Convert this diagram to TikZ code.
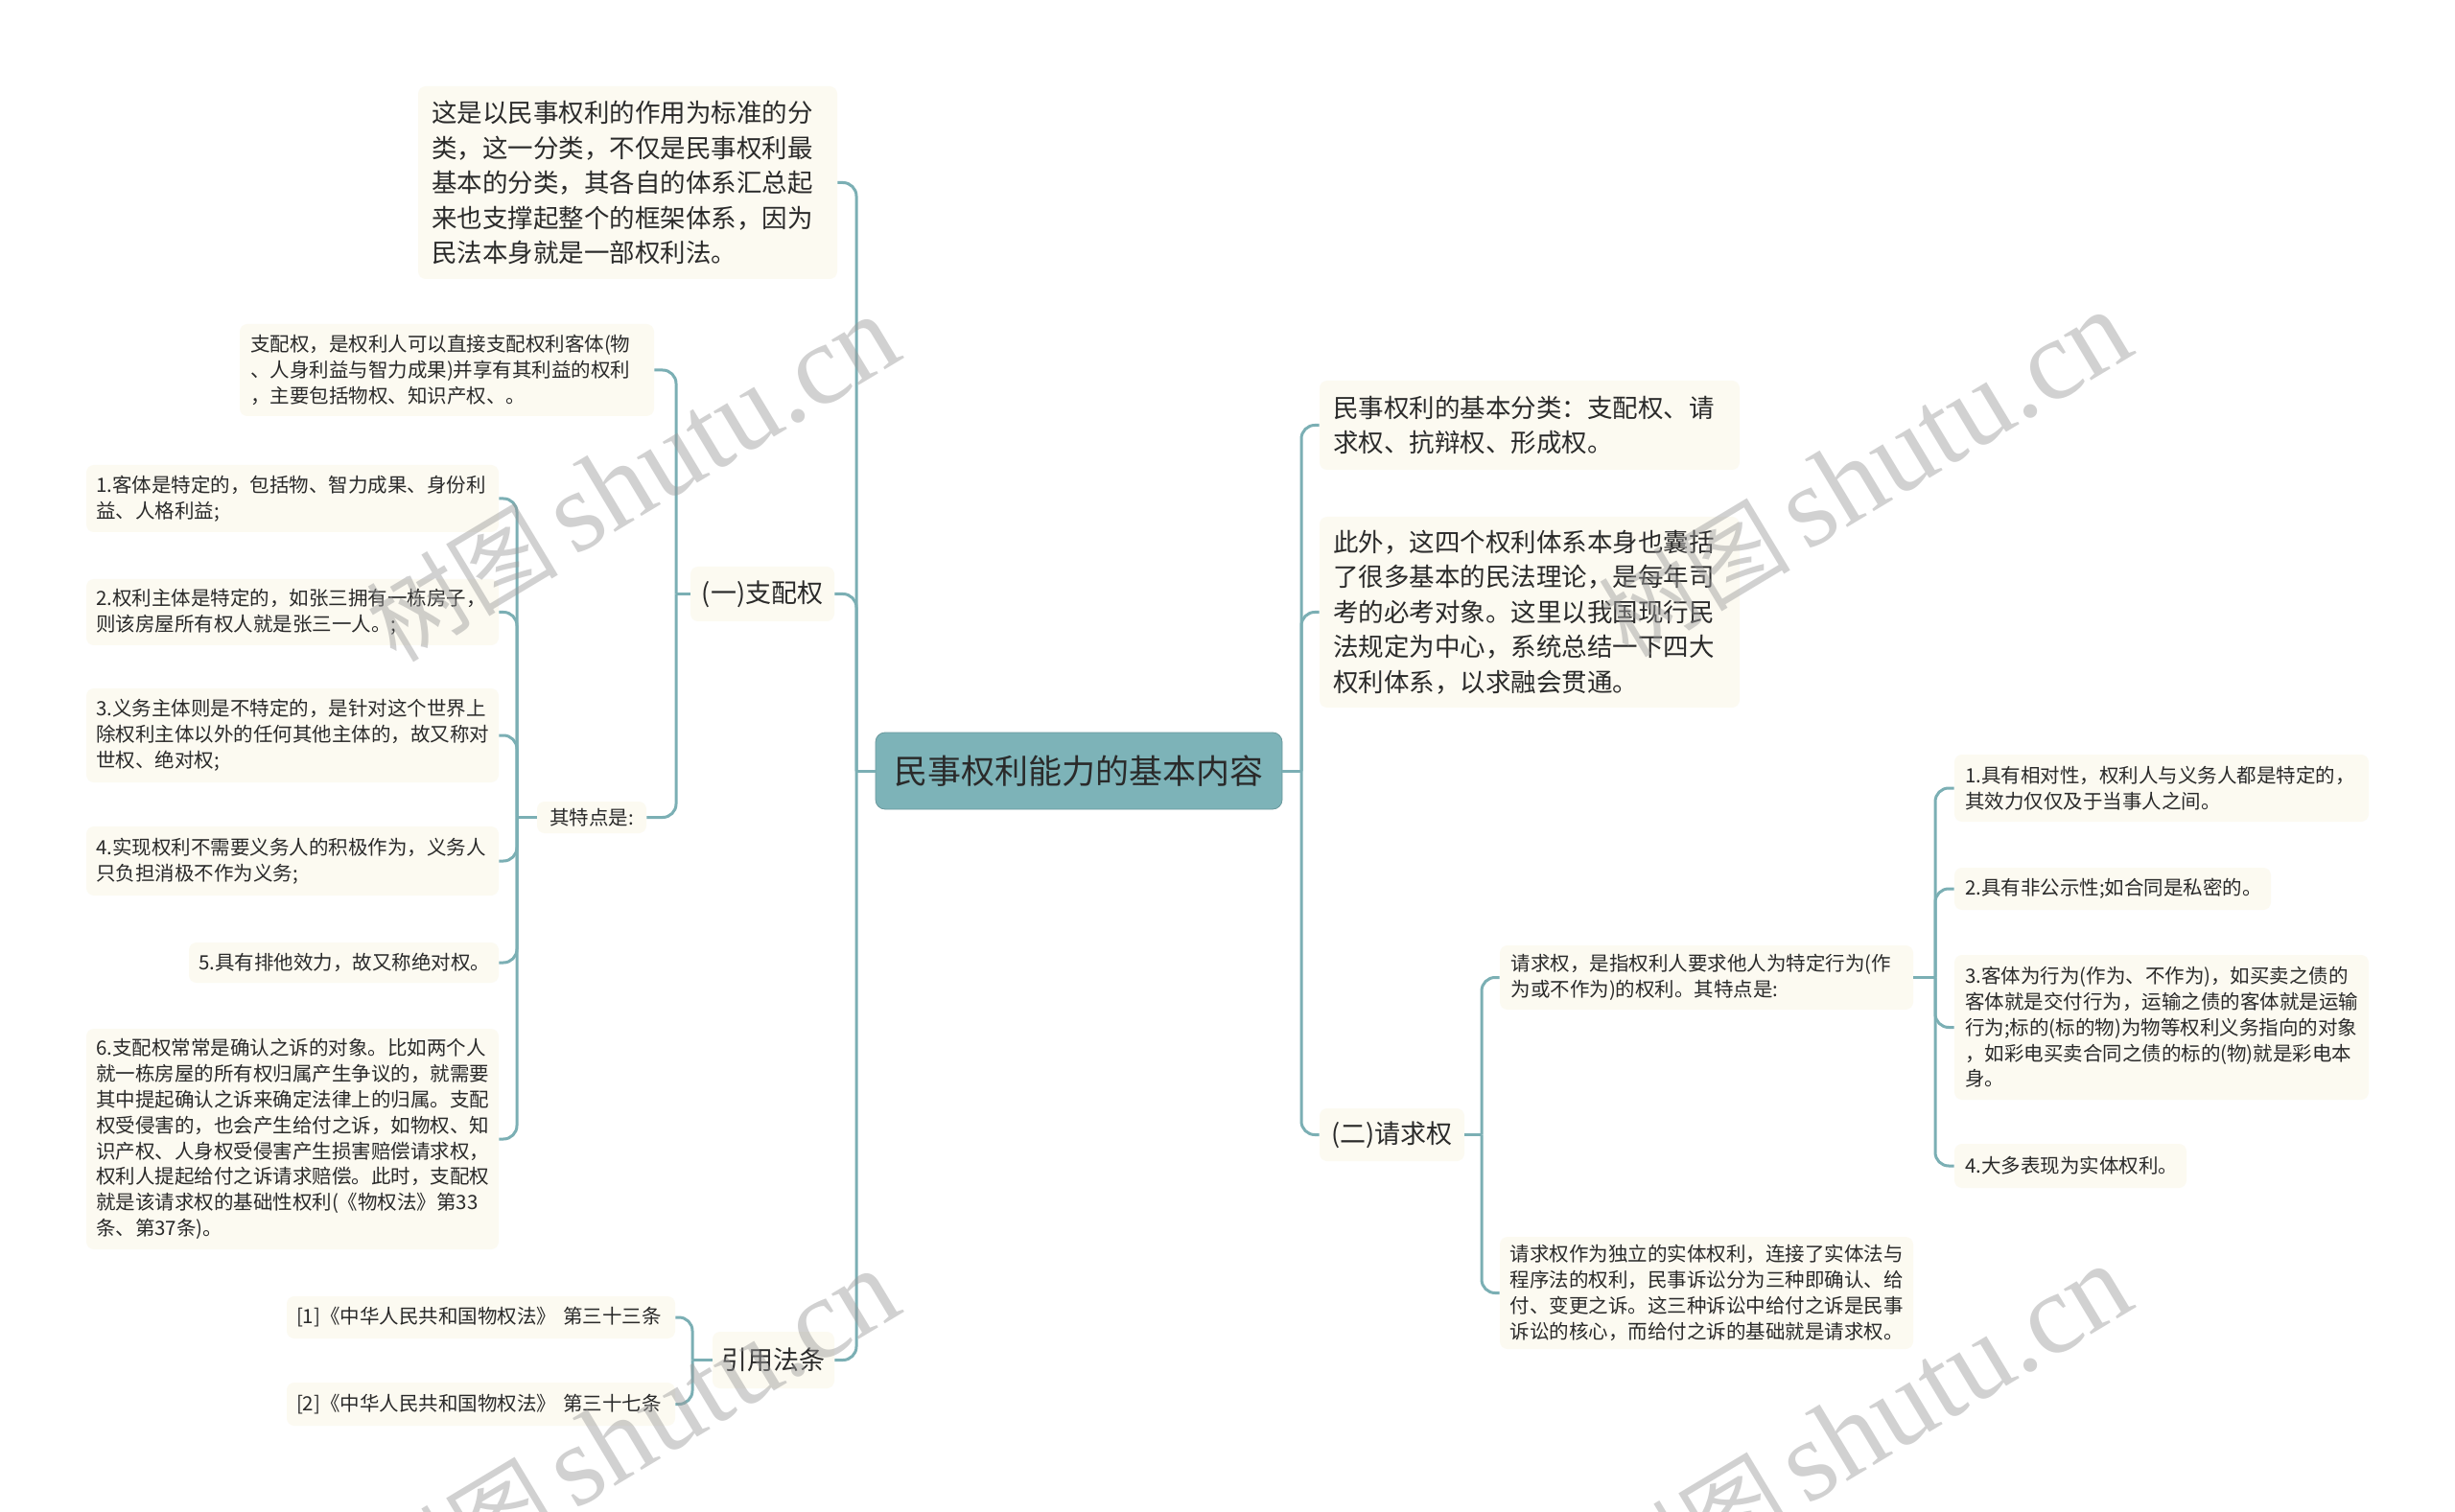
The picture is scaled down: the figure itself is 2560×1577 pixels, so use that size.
\documentclass[tikz,border=0pt]{standalone}
\usepackage{fontspec}
\setmainfont{Noto Sans CJK SC}
\newfontfamily\wmfont{Liberation Serif}
\newfontfamily\wmcjk{Noto Sans CJK SC}
\definecolor{conncol}{HTML}{7BAFB4}
\definecolor{boxfill}{HTML}{FCFAF1}
\definecolor{rootfill}{HTML}{7DB3B8}
\definecolor{txt}{HTML}{2A2A2A}
\definecolor{wmcol}{HTML}{9A9A9A}
\tikzset{
  conn/.style={draw=conncol, line width=1.5pt, rounded corners=7pt},
  basebox/.style={fill=boxfill, rounded corners=4pt, text=txt},
  bigbox/.style={basebox, inner ysep=3pt, align=left, font=\fontsize{13.25pt}{18.25pt}\selectfont},
  smallbox/.style={basebox, inner ysep=3pt, align=left, font=\fontsize{10.25pt}{13.4pt}\selectfont},
  midbox/.style={basebox, inner sep=0pt, align=center, font=\fontsize{13.5pt}{16pt}\selectfont},
  smid/.style={basebox, inner sep=0pt, align=center, font=\fontsize{10.25pt}{13pt}\selectfont},
  rootbox/.style={fill=rootfill, draw=rootfill!85!black, line width=0.4pt, rounded corners=5pt, inner sep=0pt, text=txt, font=\fontsize{17.5pt}{20pt}\selectfont},
  wm/.style={text=wmcol, opacity=0.45, inner sep=0pt}
}
\begin{document}
\begin{tikzpicture}[x=0.5pt,y=-0.5pt]
\fill[white] (0,0) rectangle (2560,1577);
\useasboundingbox (0,0) rectangle (2560,1577);

% central node
\node[rootbox, minimum width=212pt, minimum height=40pt] (root) at (1125,804) {民事权利能力的基本内容};

% left side
\node[bigbox, minimum width=218.5pt, minimum height=100.5pt, text width=204.5pt, inner xsep=7pt] (t1) at (654.5,190.5)
{这是以民事权利的作用为标准的分\\类，这一分类，不仅是民事权利最\\基本的分类，其各自的体系汇总起\\来也支撑起整个的框架体系，因为\\民法本身就是一部权利法。};

\node[midbox, minimum width=75pt, minimum height=28.5pt] (zp) at (795,619.5) {(一)支配权};

\node[smallbox, minimum width=216pt, minimum height=48pt, text width=205pt, inner xsep=5.5pt] (d1) at (466,386)
{支配权，是权利人可以直接支配权利客体(物\\、人身利益与智力成果)并享有其利益的权利\\，主要包括物权、知识产权、。};

\node[smid, minimum width=57pt, minimum height=16.5pt] (td) at (617,852.5) {其特点是:};

\node[smallbox, minimum width=215pt, minimum height=35pt, text width=205pt, inner xsep=5pt] (i1) at (305,520)
{1.客体是特定的，包括物、智力成果、身份利\\益、人格利益;};
\node[smallbox, minimum width=215pt, minimum height=34.5pt, text width=205pt, inner xsep=5pt] (i2) at (305,638.5)
{2.权利主体是特定的，如张三拥有一栋房子，\\则该房屋所有权人就是张三一人。;};
\node[smallbox, minimum width=215pt, minimum height=49pt, text width=205pt, inner xsep=5pt] (i3) at (305,767)
{3.义务主体则是不特定的，是针对这个世界上\\除权利主体以外的任何其他主体的，故又称对\\世权、绝对权;};
\node[smallbox, minimum width=215pt, minimum height=36pt, text width=205pt, inner xsep=5pt] (i4) at (305,898)
{4.实现权利不需要义务人的积极作为，义务人\\只负担消极不作为义务;};
\node[smallbox, minimum width=161.5pt, minimum height=21pt, text width=151.5pt, inner xsep=5pt] (i5) at (358.5,1004)
{5.具有排他效力，故又称绝对权。};
\node[smallbox, minimum width=215pt, minimum height=115pt, text width=205pt, inner xsep=5pt] (i6) at (305,1188)
{6.支配权常常是确认之诉的对象。比如两个人\\就一栋房屋的所有权归属产生争议的，就需要\\其中提起确认之诉来确定法律上的归属。支配\\权受侵害的，也会产生给付之诉，如物权、知\\识产权、人身权受侵害产生损害赔偿请求权，\\权利人提起给付之诉请求赔偿。此时，支配权\\就是该请求权的基础性权利(《物权法》第33\\条、第37条)。};

\node[midbox, minimum width=63.5pt, minimum height=29.5pt] (yy) at (806.5,1418.5) {引用法条};
\node[smallbox, minimum width=202.5pt, minimum height=22pt, text width=192.5pt, inner xsep=5pt] (r1) at (501.5,1374)
{[1]《中华人民共和国物权法》 第三十三条};
\node[smallbox, minimum width=202.5pt, minimum height=22.5pt, text width=192.5pt, inner xsep=5pt] (r2) at (501.5,1464.5)
{[2]《中华人民共和国物权法》 第三十七条};

% right side
\node[bigbox, minimum width=219pt, minimum height=46.5pt, text width=205pt, inner xsep=7pt] (rb1) at (1595,443.5)
{民事权利的基本分类：支配权、请\\求权、抗辩权、形成权。};
\node[bigbox, minimum width=219pt, minimum height=99.5pt, text width=205pt, inner xsep=7pt] (rb2) at (1595,638.5)
{此外，这四个权利体系本身也囊括\\了很多基本的民法理论，是每年司\\考的必考对象。这里以我国现行民\\法规定为中心，系统总结一下四大\\权利体系，以求融会贯通。};
\node[midbox, minimum width=75.5pt, minimum height=27.5pt] (qq) at (1451.5,1183.5) {(二)请求权};

\node[smallbox, minimum width=215.5pt, minimum height=33.5pt, text width=204pt, inner xsep=5.75pt] (q1) at (1779.5,1019.5)
{请求权，是指权利人要求他人为特定行为(作\\为或不作为)的权利。其特点是:};
\node[smallbox, minimum width=215.5pt, minimum height=58.5pt, text width=205pt, inner xsep=5.25pt] (q2) at (1779.5,1348.5)
{请求权作为独立的实体权利，连接了实体法与\\程序法的权利，民事诉讼分为三种即确认、给\\付、变更之诉。这三种诉讼中给付之诉是民事\\诉讼的核心，而给付之诉的基础就是请求权。};

\node[smallbox, minimum width=216pt, minimum height=35pt, text width=205pt, inner xsep=5.5pt] (j1) at (2254,822)
{1.具有相对性，权利人与义务人都是特定的，\\其效力仅仅及于当事人之间。};
\node[smallbox, minimum width=165pt, minimum height=22pt, text width=154pt, inner xsep=5.5pt] (j2) at (2203,927)
{2.具有非公示性;如合同是私密的。};
\node[smallbox, minimum width=216pt, minimum height=75.5pt, text width=205pt, inner xsep=5.5pt] (j3) at (2254,1071.5)
{3.客体为行为(作为、不作为)，如买卖之债的\\客体就是交付行为，运输之债的客体就是运输\\行为;标的(标的物)为物等权利义务指向的对象\\，如彩电买卖合同之债的标的(物)就是彩电本\\身。};
\node[smallbox, minimum width=121pt, minimum height=23pt, text width=110pt, inner xsep=5.5pt] (j4) at (2159,1216)
{4.大多表现为实体权利。};

% trunk coordinates
\coordinate (ltx) at (893,0);
\coordinate (rtx) at (1357,0);
\coordinate (zpx) at (705,0);
\coordinate (tdx) at (539,0);
\coordinate (yyx) at (722,0);
\coordinate (qqx) at (1545,0);
\coordinate (q1x) at (2018,0);

% connectors left trunk
\draw[conn] (root.west) -- (root.west -| ltx);
\draw[conn] (root.west -| ltx) |- (t1.east);
\draw[conn] (root.west -| ltx) |- (zp.east);
\draw[conn] (root.west -| ltx) |- (yy.east);
% (一)支配权
\draw[conn] (zp.west) -- (zp.west -| zpx);
\draw[conn] (zp.west -| zpx) |- (d1.east);
\draw[conn] (zp.west -| zpx) |- (td.east);
% 其特点是
\draw[conn] (td.west) -- (td.west -| tdx);
\foreach \n in {i1,i2,i3,i4,i5,i6}{
  \draw[conn] (td.west -| tdx) |- (\n.east);
}
% 引用法条
\draw[conn] (yy.west) -- (yy.west -| yyx);
\draw[conn] (yy.west -| yyx) |- (r1.east);
\draw[conn] (yy.west -| yyx) |- (r2.east);
% right trunk
\draw[conn] (root.east) -- (root.east -| rtx);
\draw[conn] (root.east -| rtx) |- (rb1.west);
\draw[conn] (root.east -| rtx) |- (rb2.west);
\draw[conn] (root.east -| rtx) |- (qq.west);
% (二)请求权
\draw[conn] (qq.east) -- (qq.east -| qqx);
\draw[conn] (qq.east -| qqx) |- (q1.west);
\draw[conn] (qq.east -| qqx) |- (q2.west);
% 请求权 children
\draw[conn] (q1.east) -- (q1.east -| q1x);
\foreach \n in {j1,j2,j3,j4}{
  \draw[conn] (q1.east -| q1x) |- (\n.west);
}

% watermarks
\foreach \p/\nm in {{(660,500)}/wa,{(1945,495)}/wb,{(660,1495)}/wc,{(1945,1490)}/wd}{
  \node[wm, rotate=31] (\nm) at \p {\wmcjk\fontsize{50pt}{50pt}\selectfont 树图\,\wmfont\fontsize{60pt}{60pt}\selectfont shutu.cn};
}
\end{tikzpicture}
\end{document}
